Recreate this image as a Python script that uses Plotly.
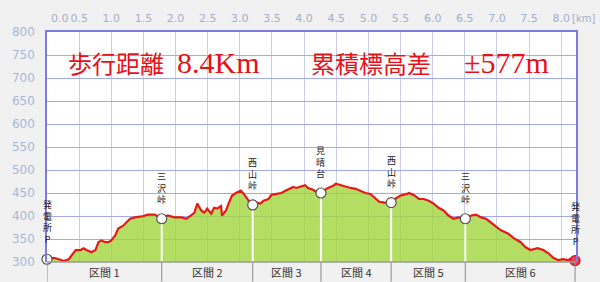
import plotly.graph_objects as go

# ---- data ----
dist_km = [0.000, 0.108, 0.185, 0.262, 0.338, 0.385, 0.446, 0.523, 0.569, 0.615, 0.692, 0.754,
           0.800, 0.846, 0.908, 0.954, 1.000, 1.062, 1.108, 1.185, 1.231, 1.292, 1.369, 1.477,
           1.569, 1.677, 1.785, 1.877, 1.985, 2.092, 2.169, 2.246, 2.292, 2.338, 2.400, 2.446,
           2.492, 2.554, 2.600, 2.646, 2.708, 2.723, 2.785, 2.831, 2.877, 2.938, 3.015, 3.062,
           3.138, 3.200, 3.262, 3.323, 3.369, 3.446, 3.492, 3.569, 3.646, 3.708, 3.785, 3.831,
           3.877, 3.954, 4.015, 4.062, 4.138, 4.215, 4.262, 4.369, 4.446, 4.492, 4.569, 4.646,
           4.723, 4.800, 4.877, 4.954, 5.031, 5.108, 5.169, 5.246, 5.354, 5.415, 5.492, 5.600,
           5.631, 5.723, 5.785, 5.862, 5.938, 6.015, 6.092, 6.169, 6.246, 6.323, 6.400, 6.508,
           6.600, 6.677, 6.754, 6.831, 6.908, 6.985, 7.062, 7.169, 7.262, 7.369, 7.446, 7.523,
           7.631, 7.723, 7.800, 7.877, 7.954, 8.031, 8.108, 8.169, 8.215]
elev_m = [306, 309, 306, 302, 306, 315, 326, 326, 330, 326, 321, 326,
          343, 347, 343, 343, 347, 358, 373, 379, 386, 394, 397, 399,
          403, 403, 394, 401, 397, 397, 394, 401, 407, 427, 412, 407,
          416, 405, 418, 416, 422, 401, 412, 429, 444, 450, 455, 448,
          433, 424, 429, 427, 433, 437, 446, 448, 450, 455, 459, 463,
          461, 465, 467, 461, 457, 450, 450, 461, 465, 470, 467, 463,
          461, 459, 455, 450, 448, 439, 431, 429, 429, 437, 444, 448,
          450, 444, 437, 437, 433, 427, 418, 412, 401, 394, 397, 394,
          401, 403, 397, 394, 386, 379, 369, 362, 352, 343, 332, 326,
          330, 326, 319, 309, 304, 306, 304, 309, 302]

wp_names = ["発電所P", "三沢峠", "西山峠", "見晴台", "西山峠", "三沢峠", "発電所P"]
wp_km = [0.0, 1.785, 3.200, 4.262, 5.354, 6.508, 8.215]
wp_elev = [306, 394, 424, 450, 429, 394, 303]

section_labels = ["区間 1", "区間 2", "区間 3", "区間 4", "区間 5", "区間 6"]

x_tick_vals = [0.5, 1.0, 1.5, 2.0, 2.5, 3.0, 3.5, 4.0, 4.5, 5.0, 5.5, 6.0, 6.5, 7.0, 7.5, 8.0]
x_tick_text = ["%.1f" % v for v in x_tick_vals]
y_tick_vals = [300, 350, 400, 450, 500, 550, 600, 650, 700, 750, 800]

title_dist_label = "歩行距離"
title_dist_value = "8.4Km"
title_gain_label = "累積標高差"
title_gain_value = "±577m"

# ---- figure ----
W, H = 600, 282
M_L, M_R, M_T, M_B = 41, 24, 29, 20
plot_w = W - M_L - M_R
plot_h = H - M_T - M_B
band = -M_B / plot_h

fig = go.Figure()

# elevation profile (fill + red line)
fig.add_trace(go.Scatter(
    x=dist_km, y=elev_m, mode="lines", fill="tozeroy",
    fillcolor="rgba(160,214,60,0.80)",
    line=dict(color="#e81818", width=2.2),
    hoverinfo="skip", showlegend=False))

# white drop lines from waypoints
for xk, ye in zip(wp_km[1:-1], wp_elev[1:-1]):
    fig.add_trace(go.Scatter(
        x=[xk, xk], y=[300, ye], mode="lines",
        line=dict(color="white", width=2),
        hoverinfo="skip", showlegend=False))

# waypoint markers
marker_fill = ["white"] * (len(wp_km) - 1) + ["#e84050"]
marker_line = ["#555555"] * (len(wp_km) - 1) + ["#c01020"]
fig.add_trace(go.Scatter(
    x=wp_km, y=wp_elev, mode="markers",
    marker=dict(size=10, color=marker_fill, line=dict(color=marker_line, width=1.2)),
    hoverinfo="skip", showlegend=False, cliponaxis=False))

annotations = []
# vertical waypoint labels
for xk, ye, name in zip(wp_km, wp_elev, wp_names):
    annotations.append(dict(
        x=xk, y=ye, xref="x", yref="y", text="<br>".join(list(name)),
        showarrow=False, yanchor="bottom", xanchor="center", yshift=11,
        font=dict(family="Noto Sans CJK JP", size=9, color="#222222"),
        align="center"))

# section labels in bottom band
shapes = []
for i, lab in enumerate(section_labels):
    mid = (wp_km[i] + wp_km[i + 1]) / 2
    annotations.append(dict(
        x=mid, y=band / 2, xref="x", yref="paper", text=lab, showarrow=False,
        yanchor="middle", xanchor="center",
        font=dict(family="Noto Sans CJK JP", size=11, color="#333333")))
for xk in wp_km:
    shapes.append(dict(type="line", xref="x", yref="paper", x0=xk, x1=xk,
                       y0=0, y1=band, line=dict(color="#8a8a8a", width=1)))
# bottom border of plot
shapes.append(dict(type="line", xref="paper", yref="paper", x0=0, x1=1, y0=0, y1=0,
                   line=dict(color="#9a9a9a", width=1.5)))


def px_ann(xpx, ypx, text, font, xanchor="left"):
    return dict(x=(xpx - M_L) / plot_w, y=1 - (ypx - M_T) / plot_h,
                xref="paper", yref="paper", text=text, showarrow=False,
                xanchor=xanchor, yanchor="middle", font=font)


# big red titles
red_cjk = dict(family="Noto Sans CJK JP", size=24, color="#e8101a")
red_lat = dict(family="Liberation Serif", size=30, color="#e8101a")
annotations += [
    px_ann(60, 60, title_dist_label, red_cjk),
    px_ann(170, 60, title_dist_value, red_lat),
    px_ann(306, 60, title_gain_label, red_cjk),
    px_ann(461, 60, title_gain_value, red_lat),
]
# top axis extras
axis_font = dict(family="DejaVu Sans", size=11, color="#a6aecb")
annotations += [
    px_ann(43, 15, "0.0", axis_font),
    px_ann(597, 15, "[km]", dict(family="DejaVu Sans", size=10, color="#a6aecb"), xanchor="right"),
]

fig.update_layout(
    width=W, height=H,
    margin=dict(l=M_L, r=M_R, t=M_T, b=M_B, pad=0),
    paper_bgcolor="#f1f1f1", plot_bgcolor="white",
    annotations=annotations, shapes=shapes,
    xaxis=dict(side="top", range=[0, 8.23], tickvals=x_tick_vals, ticktext=x_tick_text,
               showgrid=True, gridcolor="#c9cde6", gridwidth=1, zeroline=False,
               showline=True, linecolor="#7b7be0", linewidth=1.5, ticks="",
               tickfont=axis_font, ticklabelstandoff=4, fixedrange=True),
    yaxis=dict(range=[300, 800], tickvals=y_tick_vals, showgrid=True,
               gridcolor="#a3a9f0", gridwidth=1, zeroline=False,
               showline=True, mirror=True, linecolor="#7b7be0", linewidth=1.5,
               ticks="", tickfont=dict(family="DejaVu Sans", size=12, color="#a6b6da"),
               ticklabelstandoff=8, fixedrange=True),
)

fig.write_html("out.html")
